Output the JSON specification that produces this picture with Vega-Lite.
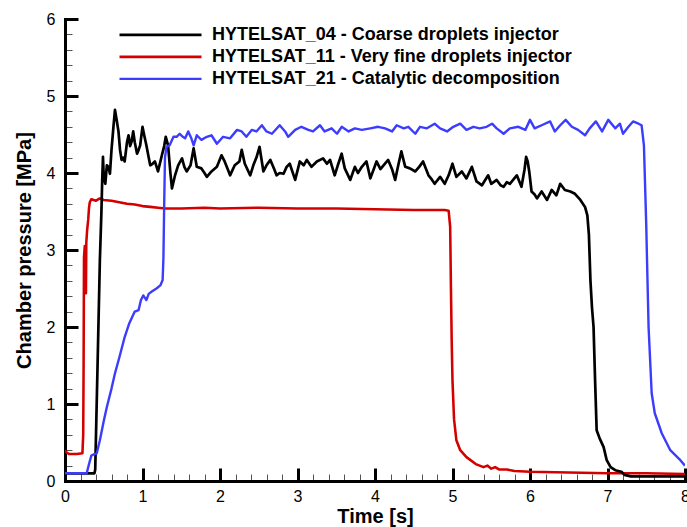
{
  "$schema": "https://vega.github.io/schema/vega-lite/v6.json",
  "autosize": {"type": "none"},
  "padding": {"left": 65, "top": 19, "right": 2, "bottom": 46},
  "width": 620,
  "height": 462,
  "config": {
    "view": {"stroke": null},
    "font": "Liberation Sans",
    "axis": {"grid": false}
  },
  "data": {
    "values": [
      {"series": "HYTELSAT_11 - Very fine droplets injector", "t": 0, "p": 0.40},
      {"series": "HYTELSAT_11 - Very fine droplets injector", "t": 0.01, "p": 0.38},
      {"series": "HYTELSAT_11 - Very fine droplets injector", "t": 0.05, "p": 0.35},
      {"series": "HYTELSAT_11 - Very fine droplets injector", "t": 0.15, "p": 0.35},
      {"series": "HYTELSAT_11 - Very fine droplets injector", "t": 0.225, "p": 0.36},
      {"series": "HYTELSAT_11 - Very fine droplets injector", "t": 0.235, "p": 0.6},
      {"series": "HYTELSAT_11 - Very fine droplets injector", "t": 0.24, "p": 1.5},
      {"series": "HYTELSAT_11 - Very fine droplets injector", "t": 0.245, "p": 2.9},
      {"series": "HYTELSAT_11 - Very fine droplets injector", "t": 0.255, "p": 3.05},
      {"series": "HYTELSAT_11 - Very fine droplets injector", "t": 0.265, "p": 2.6},
      {"series": "HYTELSAT_11 - Very fine droplets injector", "t": 0.27, "p": 2.44},
      {"series": "HYTELSAT_11 - Very fine droplets injector", "t": 0.275, "p": 3.1},
      {"series": "HYTELSAT_11 - Very fine droplets injector", "t": 0.285, "p": 3.25},
      {"series": "HYTELSAT_11 - Very fine droplets injector", "t": 0.3, "p": 3.4},
      {"series": "HYTELSAT_11 - Very fine droplets injector", "t": 0.31, "p": 3.55},
      {"series": "HYTELSAT_11 - Very fine droplets injector", "t": 0.32, "p": 3.62},
      {"series": "HYTELSAT_11 - Very fine droplets injector", "t": 0.34, "p": 3.66},
      {"series": "HYTELSAT_11 - Very fine droplets injector", "t": 0.4, "p": 3.64},
      {"series": "HYTELSAT_11 - Very fine droplets injector", "t": 0.45, "p": 3.67},
      {"series": "HYTELSAT_11 - Very fine droplets injector", "t": 0.5, "p": 3.65},
      {"series": "HYTELSAT_11 - Very fine droplets injector", "t": 0.6, "p": 3.64},
      {"series": "HYTELSAT_11 - Very fine droplets injector", "t": 0.7, "p": 3.62},
      {"series": "HYTELSAT_11 - Very fine droplets injector", "t": 0.8, "p": 3.6},
      {"series": "HYTELSAT_11 - Very fine droplets injector", "t": 0.9, "p": 3.59},
      {"series": "HYTELSAT_11 - Very fine droplets injector", "t": 1.0, "p": 3.57},
      {"series": "HYTELSAT_11 - Very fine droplets injector", "t": 1.1, "p": 3.56},
      {"series": "HYTELSAT_11 - Very fine droplets injector", "t": 1.2, "p": 3.55},
      {"series": "HYTELSAT_11 - Very fine droplets injector", "t": 1.3, "p": 3.54},
      {"series": "HYTELSAT_11 - Very fine droplets injector", "t": 1.5, "p": 3.54},
      {"series": "HYTELSAT_11 - Very fine droplets injector", "t": 1.8, "p": 3.55},
      {"series": "HYTELSAT_11 - Very fine droplets injector", "t": 2.0, "p": 3.54},
      {"series": "HYTELSAT_11 - Very fine droplets injector", "t": 2.5, "p": 3.55},
      {"series": "HYTELSAT_11 - Very fine droplets injector", "t": 3.0, "p": 3.54},
      {"series": "HYTELSAT_11 - Very fine droplets injector", "t": 3.5, "p": 3.54},
      {"series": "HYTELSAT_11 - Very fine droplets injector", "t": 4.0, "p": 3.53},
      {"series": "HYTELSAT_11 - Very fine droplets injector", "t": 4.5, "p": 3.52},
      {"series": "HYTELSAT_11 - Very fine droplets injector", "t": 4.9, "p": 3.52},
      {"series": "HYTELSAT_11 - Very fine droplets injector", "t": 4.95, "p": 3.51},
      {"series": "HYTELSAT_11 - Very fine droplets injector", "t": 4.97, "p": 3.3},
      {"series": "HYTELSAT_11 - Very fine droplets injector", "t": 4.98, "p": 2.5},
      {"series": "HYTELSAT_11 - Very fine droplets injector", "t": 4.99, "p": 1.8},
      {"series": "HYTELSAT_11 - Very fine droplets injector", "t": 5.0, "p": 1.3},
      {"series": "HYTELSAT_11 - Very fine droplets injector", "t": 5.02, "p": 0.8},
      {"series": "HYTELSAT_11 - Very fine droplets injector", "t": 5.05, "p": 0.53},
      {"series": "HYTELSAT_11 - Very fine droplets injector", "t": 5.1, "p": 0.4},
      {"series": "HYTELSAT_11 - Very fine droplets injector", "t": 5.18, "p": 0.31},
      {"series": "HYTELSAT_11 - Very fine droplets injector", "t": 5.3, "p": 0.22},
      {"series": "HYTELSAT_11 - Very fine droplets injector", "t": 5.4, "p": 0.18},
      {"series": "HYTELSAT_11 - Very fine droplets injector", "t": 5.45, "p": 0.2},
      {"series": "HYTELSAT_11 - Very fine droplets injector", "t": 5.5, "p": 0.16},
      {"series": "HYTELSAT_11 - Very fine droplets injector", "t": 5.55, "p": 0.18},
      {"series": "HYTELSAT_11 - Very fine droplets injector", "t": 5.6, "p": 0.15},
      {"series": "HYTELSAT_11 - Very fine droplets injector", "t": 5.7, "p": 0.15},
      {"series": "HYTELSAT_11 - Very fine droplets injector", "t": 5.8, "p": 0.13},
      {"series": "HYTELSAT_11 - Very fine droplets injector", "t": 6.0, "p": 0.12},
      {"series": "HYTELSAT_11 - Very fine droplets injector", "t": 6.5, "p": 0.11},
      {"series": "HYTELSAT_11 - Very fine droplets injector", "t": 7.0, "p": 0.1},
      {"series": "HYTELSAT_11 - Very fine droplets injector", "t": 7.5, "p": 0.1},
      {"series": "HYTELSAT_11 - Very fine droplets injector", "t": 8.0, "p": 0.09},

      {"series": "HYTELSAT_04 - Coarse droplets injector", "t": 0, "p": 0.1},
      {"series": "HYTELSAT_04 - Coarse droplets injector", "t": 0.38, "p": 0.1},
      {"series": "HYTELSAT_04 - Coarse droplets injector", "t": 0.39, "p": 0.15},
      {"series": "HYTELSAT_04 - Coarse droplets injector", "t": 0.42, "p": 1.5},
      {"series": "HYTELSAT_04 - Coarse droplets injector", "t": 0.45, "p": 2.87},
      {"series": "HYTELSAT_04 - Coarse droplets injector", "t": 0.47, "p": 3.5},
      {"series": "HYTELSAT_04 - Coarse droplets injector", "t": 0.48, "p": 3.9},
      {"series": "HYTELSAT_04 - Coarse droplets injector", "t": 0.49, "p": 4.21},
      {"series": "HYTELSAT_04 - Coarse droplets injector", "t": 0.5, "p": 3.95},
      {"series": "HYTELSAT_04 - Coarse droplets injector", "t": 0.52, "p": 3.86},
      {"series": "HYTELSAT_04 - Coarse droplets injector", "t": 0.54, "p": 4.1},
      {"series": "HYTELSAT_04 - Coarse droplets injector", "t": 0.56, "p": 4.08},
      {"series": "HYTELSAT_04 - Coarse droplets injector", "t": 0.58, "p": 3.99},
      {"series": "HYTELSAT_04 - Coarse droplets injector", "t": 0.6, "p": 4.3},
      {"series": "HYTELSAT_04 - Coarse droplets injector", "t": 0.625, "p": 4.6},
      {"series": "HYTELSAT_04 - Coarse droplets injector", "t": 0.645, "p": 4.82},
      {"series": "HYTELSAT_04 - Coarse droplets injector", "t": 0.665, "p": 4.7},
      {"series": "HYTELSAT_04 - Coarse droplets injector", "t": 0.69, "p": 4.54},
      {"series": "HYTELSAT_04 - Coarse droplets injector", "t": 0.71, "p": 4.3},
      {"series": "HYTELSAT_04 - Coarse droplets injector", "t": 0.73, "p": 4.17},
      {"series": "HYTELSAT_04 - Coarse droplets injector", "t": 0.75, "p": 4.2},
      {"series": "HYTELSAT_04 - Coarse droplets injector", "t": 0.77, "p": 4.15},
      {"series": "HYTELSAT_04 - Coarse droplets injector", "t": 0.8, "p": 4.4},
      {"series": "HYTELSAT_04 - Coarse droplets injector", "t": 0.82, "p": 4.49},
      {"series": "HYTELSAT_04 - Coarse droplets injector", "t": 0.84, "p": 4.35},
      {"series": "HYTELSAT_04 - Coarse droplets injector", "t": 0.86, "p": 4.41},
      {"series": "HYTELSAT_04 - Coarse droplets injector", "t": 0.88, "p": 4.54},
      {"series": "HYTELSAT_04 - Coarse droplets injector", "t": 0.9, "p": 4.4},
      {"series": "HYTELSAT_04 - Coarse droplets injector", "t": 0.93, "p": 4.25},
      {"series": "HYTELSAT_04 - Coarse droplets injector", "t": 0.95, "p": 4.3},
      {"series": "HYTELSAT_04 - Coarse droplets injector", "t": 0.97, "p": 4.36},
      {"series": "HYTELSAT_04 - Coarse droplets injector", "t": 1.0, "p": 4.6},
      {"series": "HYTELSAT_04 - Coarse droplets injector", "t": 1.02, "p": 4.5},
      {"series": "HYTELSAT_04 - Coarse droplets injector", "t": 1.05, "p": 4.36},
      {"series": "HYTELSAT_04 - Coarse droplets injector", "t": 1.08, "p": 4.2},
      {"series": "HYTELSAT_04 - Coarse droplets injector", "t": 1.1, "p": 4.1},
      {"series": "HYTELSAT_04 - Coarse droplets injector", "t": 1.13, "p": 4.12},
      {"series": "HYTELSAT_04 - Coarse droplets injector", "t": 1.16, "p": 4.15},
      {"series": "HYTELSAT_04 - Coarse droplets injector", "t": 1.2, "p": 4.02},
      {"series": "HYTELSAT_04 - Coarse droplets injector", "t": 1.25, "p": 4.23},
      {"series": "HYTELSAT_04 - Coarse droplets injector", "t": 1.28, "p": 4.35},
      {"series": "HYTELSAT_04 - Coarse droplets injector", "t": 1.3, "p": 4.47},
      {"series": "HYTELSAT_04 - Coarse droplets injector", "t": 1.33, "p": 4.36},
      {"series": "HYTELSAT_04 - Coarse droplets injector", "t": 1.36, "p": 4.0},
      {"series": "HYTELSAT_04 - Coarse droplets injector", "t": 1.38, "p": 3.8},
      {"series": "HYTELSAT_04 - Coarse droplets injector", "t": 1.42, "p": 3.97},
      {"series": "HYTELSAT_04 - Coarse droplets injector", "t": 1.46, "p": 4.1},
      {"series": "HYTELSAT_04 - Coarse droplets injector", "t": 1.51, "p": 4.19},
      {"series": "HYTELSAT_04 - Coarse droplets injector", "t": 1.54, "p": 4.08},
      {"series": "HYTELSAT_04 - Coarse droplets injector", "t": 1.57, "p": 4.02},
      {"series": "HYTELSAT_04 - Coarse droplets injector", "t": 1.62, "p": 4.1},
      {"series": "HYTELSAT_04 - Coarse droplets injector", "t": 1.66, "p": 4.32},
      {"series": "HYTELSAT_04 - Coarse droplets injector", "t": 1.7, "p": 4.08},
      {"series": "HYTELSAT_04 - Coarse droplets injector", "t": 1.76, "p": 4.06},
      {"series": "HYTELSAT_04 - Coarse droplets injector", "t": 1.8, "p": 4.0},
      {"series": "HYTELSAT_04 - Coarse droplets injector", "t": 1.83, "p": 3.95},
      {"series": "HYTELSAT_04 - Coarse droplets injector", "t": 1.89, "p": 4.02},
      {"series": "HYTELSAT_04 - Coarse droplets injector", "t": 1.96, "p": 4.08},
      {"series": "HYTELSAT_04 - Coarse droplets injector", "t": 2.02, "p": 4.23},
      {"series": "HYTELSAT_04 - Coarse droplets injector", "t": 2.06, "p": 4.15},
      {"series": "HYTELSAT_04 - Coarse droplets injector", "t": 2.1, "p": 4.05},
      {"series": "HYTELSAT_04 - Coarse droplets injector", "t": 2.13, "p": 3.97},
      {"series": "HYTELSAT_04 - Coarse droplets injector", "t": 2.19, "p": 4.1},
      {"series": "HYTELSAT_04 - Coarse droplets injector", "t": 2.25, "p": 4.15},
      {"series": "HYTELSAT_04 - Coarse droplets injector", "t": 2.28, "p": 4.3},
      {"series": "HYTELSAT_04 - Coarse droplets injector", "t": 2.32, "p": 4.12},
      {"series": "HYTELSAT_04 - Coarse droplets injector", "t": 2.39, "p": 3.97},
      {"series": "HYTELSAT_04 - Coarse droplets injector", "t": 2.43, "p": 4.1},
      {"series": "HYTELSAT_04 - Coarse droplets injector", "t": 2.47, "p": 4.2},
      {"series": "HYTELSAT_04 - Coarse droplets injector", "t": 2.51, "p": 4.34},
      {"series": "HYTELSAT_04 - Coarse droplets injector", "t": 2.56, "p": 4.02},
      {"series": "HYTELSAT_04 - Coarse droplets injector", "t": 2.6, "p": 4.1},
      {"series": "HYTELSAT_04 - Coarse droplets injector", "t": 2.65, "p": 4.17},
      {"series": "HYTELSAT_04 - Coarse droplets injector", "t": 2.7, "p": 4.05},
      {"series": "HYTELSAT_04 - Coarse droplets injector", "t": 2.73, "p": 3.97},
      {"series": "HYTELSAT_04 - Coarse droplets injector", "t": 2.77, "p": 4.0},
      {"series": "HYTELSAT_04 - Coarse droplets injector", "t": 2.82, "p": 3.99},
      {"series": "HYTELSAT_04 - Coarse droplets injector", "t": 2.86, "p": 4.08},
      {"series": "HYTELSAT_04 - Coarse droplets injector", "t": 2.9, "p": 4.12},
      {"series": "HYTELSAT_04 - Coarse droplets injector", "t": 2.97, "p": 3.91},
      {"series": "HYTELSAT_04 - Coarse droplets injector", "t": 3.03, "p": 4.15},
      {"series": "HYTELSAT_04 - Coarse droplets injector", "t": 3.08, "p": 4.1},
      {"series": "HYTELSAT_04 - Coarse droplets injector", "t": 3.12, "p": 4.17},
      {"series": "HYTELSAT_04 - Coarse droplets injector", "t": 3.18, "p": 4.08},
      {"series": "HYTELSAT_04 - Coarse droplets injector", "t": 3.25, "p": 4.15},
      {"series": "HYTELSAT_04 - Coarse droplets injector", "t": 3.33, "p": 4.19},
      {"series": "HYTELSAT_04 - Coarse droplets injector", "t": 3.38, "p": 4.12},
      {"series": "HYTELSAT_04 - Coarse droplets injector", "t": 3.42, "p": 4.17},
      {"series": "HYTELSAT_04 - Coarse droplets injector", "t": 3.48, "p": 3.97},
      {"series": "HYTELSAT_04 - Coarse droplets injector", "t": 3.52, "p": 4.1},
      {"series": "HYTELSAT_04 - Coarse droplets injector", "t": 3.57, "p": 4.25},
      {"series": "HYTELSAT_04 - Coarse droplets injector", "t": 3.61, "p": 4.06},
      {"series": "HYTELSAT_04 - Coarse droplets injector", "t": 3.68, "p": 3.91},
      {"series": "HYTELSAT_04 - Coarse droplets injector", "t": 3.74, "p": 4.08},
      {"series": "HYTELSAT_04 - Coarse droplets injector", "t": 3.78, "p": 4.0},
      {"series": "HYTELSAT_04 - Coarse droplets injector", "t": 3.83, "p": 4.08},
      {"series": "HYTELSAT_04 - Coarse droplets injector", "t": 3.89, "p": 4.15},
      {"series": "HYTELSAT_04 - Coarse droplets injector", "t": 3.94, "p": 3.93},
      {"series": "HYTELSAT_04 - Coarse droplets injector", "t": 4.02, "p": 4.15},
      {"series": "HYTELSAT_04 - Coarse droplets injector", "t": 4.07, "p": 4.05},
      {"series": "HYTELSAT_04 - Coarse droplets injector", "t": 4.11, "p": 4.1},
      {"series": "HYTELSAT_04 - Coarse droplets injector", "t": 4.17, "p": 4.17},
      {"series": "HYTELSAT_04 - Coarse droplets injector", "t": 4.22, "p": 4.05},
      {"series": "HYTELSAT_04 - Coarse droplets injector", "t": 4.26, "p": 3.91},
      {"series": "HYTELSAT_04 - Coarse droplets injector", "t": 4.3, "p": 4.1},
      {"series": "HYTELSAT_04 - Coarse droplets injector", "t": 4.34, "p": 4.28},
      {"series": "HYTELSAT_04 - Coarse droplets injector", "t": 4.39, "p": 4.08},
      {"series": "HYTELSAT_04 - Coarse droplets injector", "t": 4.45, "p": 4.06},
      {"series": "HYTELSAT_04 - Coarse droplets injector", "t": 4.52, "p": 4.02},
      {"series": "HYTELSAT_04 - Coarse droplets injector", "t": 4.57, "p": 4.08},
      {"series": "HYTELSAT_04 - Coarse droplets injector", "t": 4.62, "p": 4.15},
      {"series": "HYTELSAT_04 - Coarse droplets injector", "t": 4.69, "p": 3.97},
      {"series": "HYTELSAT_04 - Coarse droplets injector", "t": 4.73, "p": 3.92},
      {"series": "HYTELSAT_04 - Coarse droplets injector", "t": 4.77, "p": 3.86},
      {"series": "HYTELSAT_04 - Coarse droplets injector", "t": 4.84, "p": 3.95},
      {"series": "HYTELSAT_04 - Coarse droplets injector", "t": 4.9, "p": 3.86},
      {"series": "HYTELSAT_04 - Coarse droplets injector", "t": 4.95, "p": 3.97},
      {"series": "HYTELSAT_04 - Coarse droplets injector", "t": 5.0, "p": 4.12},
      {"series": "HYTELSAT_04 - Coarse droplets injector", "t": 5.05, "p": 3.95},
      {"series": "HYTELSAT_04 - Coarse droplets injector", "t": 5.12, "p": 4.02},
      {"series": "HYTELSAT_04 - Coarse droplets injector", "t": 5.18, "p": 3.93},
      {"series": "HYTELSAT_04 - Coarse droplets injector", "t": 5.25, "p": 4.08},
      {"series": "HYTELSAT_04 - Coarse droplets injector", "t": 5.31, "p": 3.89},
      {"series": "HYTELSAT_04 - Coarse droplets injector", "t": 5.38, "p": 3.84},
      {"series": "HYTELSAT_04 - Coarse droplets injector", "t": 5.46, "p": 3.97},
      {"series": "HYTELSAT_04 - Coarse droplets injector", "t": 5.5, "p": 3.86},
      {"series": "HYTELSAT_04 - Coarse droplets injector", "t": 5.57, "p": 3.91},
      {"series": "HYTELSAT_04 - Coarse droplets injector", "t": 5.62, "p": 3.84},
      {"series": "HYTELSAT_04 - Coarse droplets injector", "t": 5.66, "p": 3.82},
      {"series": "HYTELSAT_04 - Coarse droplets injector", "t": 5.7, "p": 3.88},
      {"series": "HYTELSAT_04 - Coarse droplets injector", "t": 5.74, "p": 3.86},
      {"series": "HYTELSAT_04 - Coarse droplets injector", "t": 5.79, "p": 3.92},
      {"series": "HYTELSAT_04 - Coarse droplets injector", "t": 5.83, "p": 3.97},
      {"series": "HYTELSAT_04 - Coarse droplets injector", "t": 5.89, "p": 3.82},
      {"series": "HYTELSAT_04 - Coarse droplets injector", "t": 5.93, "p": 4.05},
      {"series": "HYTELSAT_04 - Coarse droplets injector", "t": 5.95, "p": 4.21},
      {"series": "HYTELSAT_04 - Coarse droplets injector", "t": 5.97, "p": 4.15},
      {"series": "HYTELSAT_04 - Coarse droplets injector", "t": 5.99, "p": 4.02},
      {"series": "HYTELSAT_04 - Coarse droplets injector", "t": 6.02, "p": 3.76},
      {"series": "HYTELSAT_04 - Coarse droplets injector", "t": 6.06, "p": 3.72},
      {"series": "HYTELSAT_04 - Coarse droplets injector", "t": 6.09, "p": 3.67},
      {"series": "HYTELSAT_04 - Coarse droplets injector", "t": 6.15, "p": 3.76},
      {"series": "HYTELSAT_04 - Coarse droplets injector", "t": 6.22, "p": 3.65},
      {"series": "HYTELSAT_04 - Coarse droplets injector", "t": 6.28, "p": 3.78},
      {"series": "HYTELSAT_04 - Coarse droplets injector", "t": 6.34, "p": 3.71},
      {"series": "HYTELSAT_04 - Coarse droplets injector", "t": 6.39, "p": 3.86},
      {"series": "HYTELSAT_04 - Coarse droplets injector", "t": 6.45, "p": 3.78},
      {"series": "HYTELSAT_04 - Coarse droplets injector", "t": 6.52, "p": 3.76},
      {"series": "HYTELSAT_04 - Coarse droplets injector", "t": 6.58, "p": 3.73},
      {"series": "HYTELSAT_04 - Coarse droplets injector", "t": 6.65, "p": 3.65},
      {"series": "HYTELSAT_04 - Coarse droplets injector", "t": 6.71, "p": 3.56},
      {"series": "HYTELSAT_04 - Coarse droplets injector", "t": 6.74, "p": 3.45},
      {"series": "HYTELSAT_04 - Coarse droplets injector", "t": 6.76, "p": 3.2},
      {"series": "HYTELSAT_04 - Coarse droplets injector", "t": 6.78, "p": 2.6},
      {"series": "HYTELSAT_04 - Coarse droplets injector", "t": 6.8, "p": 2.25},
      {"series": "HYTELSAT_04 - Coarse droplets injector", "t": 6.82, "p": 2.0},
      {"series": "HYTELSAT_04 - Coarse droplets injector", "t": 6.84, "p": 1.3},
      {"series": "HYTELSAT_04 - Coarse droplets injector", "t": 6.86, "p": 0.66},
      {"series": "HYTELSAT_04 - Coarse droplets injector", "t": 6.9, "p": 0.55},
      {"series": "HYTELSAT_04 - Coarse droplets injector", "t": 6.95, "p": 0.44},
      {"series": "HYTELSAT_04 - Coarse droplets injector", "t": 6.99, "p": 0.27},
      {"series": "HYTELSAT_04 - Coarse droplets injector", "t": 7.04, "p": 0.18},
      {"series": "HYTELSAT_04 - Coarse droplets injector", "t": 7.1, "p": 0.14},
      {"series": "HYTELSAT_04 - Coarse droplets injector", "t": 7.18, "p": 0.12},
      {"series": "HYTELSAT_04 - Coarse droplets injector", "t": 7.22, "p": 0.08},
      {"series": "HYTELSAT_04 - Coarse droplets injector", "t": 7.3, "p": 0.06},
      {"series": "HYTELSAT_04 - Coarse droplets injector", "t": 8.0, "p": 0.06},

      {"series": "HYTELSAT_21 - Catalytic decomposition", "t": 0, "p": 0.1},
      {"series": "HYTELSAT_21 - Catalytic decomposition", "t": 0.28, "p": 0.1},
      {"series": "HYTELSAT_21 - Catalytic decomposition", "t": 0.31, "p": 0.22},
      {"series": "HYTELSAT_21 - Catalytic decomposition", "t": 0.34, "p": 0.33},
      {"series": "HYTELSAT_21 - Catalytic decomposition", "t": 0.38, "p": 0.35},
      {"series": "HYTELSAT_21 - Catalytic decomposition", "t": 0.41, "p": 0.36},
      {"series": "HYTELSAT_21 - Catalytic decomposition", "t": 0.45, "p": 0.53},
      {"series": "HYTELSAT_21 - Catalytic decomposition", "t": 0.5, "p": 0.78},
      {"series": "HYTELSAT_21 - Catalytic decomposition", "t": 0.54, "p": 0.96},
      {"series": "HYTELSAT_21 - Catalytic decomposition", "t": 0.6, "p": 1.2},
      {"series": "HYTELSAT_21 - Catalytic decomposition", "t": 0.645, "p": 1.4},
      {"series": "HYTELSAT_21 - Catalytic decomposition", "t": 0.7, "p": 1.6},
      {"series": "HYTELSAT_21 - Catalytic decomposition", "t": 0.77, "p": 1.87},
      {"series": "HYTELSAT_21 - Catalytic decomposition", "t": 0.83, "p": 2.05},
      {"series": "HYTELSAT_21 - Catalytic decomposition", "t": 0.9, "p": 2.2},
      {"series": "HYTELSAT_21 - Catalytic decomposition", "t": 0.95, "p": 2.22},
      {"series": "HYTELSAT_21 - Catalytic decomposition", "t": 0.98, "p": 2.35},
      {"series": "HYTELSAT_21 - Catalytic decomposition", "t": 1.01, "p": 2.41},
      {"series": "HYTELSAT_21 - Catalytic decomposition", "t": 1.05, "p": 2.35},
      {"series": "HYTELSAT_21 - Catalytic decomposition", "t": 1.08, "p": 2.43},
      {"series": "HYTELSAT_21 - Catalytic decomposition", "t": 1.12, "p": 2.46},
      {"series": "HYTELSAT_21 - Catalytic decomposition", "t": 1.18, "p": 2.5},
      {"series": "HYTELSAT_21 - Catalytic decomposition", "t": 1.23, "p": 2.54},
      {"series": "HYTELSAT_21 - Catalytic decomposition", "t": 1.26, "p": 2.61},
      {"series": "HYTELSAT_21 - Catalytic decomposition", "t": 1.27, "p": 2.9},
      {"series": "HYTELSAT_21 - Catalytic decomposition", "t": 1.28, "p": 3.6},
      {"series": "HYTELSAT_21 - Catalytic decomposition", "t": 1.29, "p": 4.2},
      {"series": "HYTELSAT_21 - Catalytic decomposition", "t": 1.31, "p": 4.34},
      {"series": "HYTELSAT_21 - Catalytic decomposition", "t": 1.35, "p": 4.36},
      {"series": "HYTELSAT_21 - Catalytic decomposition", "t": 1.4, "p": 4.47},
      {"series": "HYTELSAT_21 - Catalytic decomposition", "t": 1.44, "p": 4.47},
      {"series": "HYTELSAT_21 - Catalytic decomposition", "t": 1.48, "p": 4.51},
      {"series": "HYTELSAT_21 - Catalytic decomposition", "t": 1.52, "p": 4.47},
      {"series": "HYTELSAT_21 - Catalytic decomposition", "t": 1.55, "p": 4.45},
      {"series": "HYTELSAT_21 - Catalytic decomposition", "t": 1.59, "p": 4.54},
      {"series": "HYTELSAT_21 - Catalytic decomposition", "t": 1.63, "p": 4.45},
      {"series": "HYTELSAT_21 - Catalytic decomposition", "t": 1.66, "p": 4.36},
      {"series": "HYTELSAT_21 - Catalytic decomposition", "t": 1.7, "p": 4.49},
      {"series": "HYTELSAT_21 - Catalytic decomposition", "t": 1.76, "p": 4.43},
      {"series": "HYTELSAT_21 - Catalytic decomposition", "t": 1.83, "p": 4.47},
      {"series": "HYTELSAT_21 - Catalytic decomposition", "t": 1.89, "p": 4.49},
      {"series": "HYTELSAT_21 - Catalytic decomposition", "t": 1.96, "p": 4.38},
      {"series": "HYTELSAT_21 - Catalytic decomposition", "t": 2.04, "p": 4.47},
      {"series": "HYTELSAT_21 - Catalytic decomposition", "t": 2.13, "p": 4.45},
      {"series": "HYTELSAT_21 - Catalytic decomposition", "t": 2.22, "p": 4.56},
      {"series": "HYTELSAT_21 - Catalytic decomposition", "t": 2.28, "p": 4.54},
      {"series": "HYTELSAT_21 - Catalytic decomposition", "t": 2.34, "p": 4.47},
      {"series": "HYTELSAT_21 - Catalytic decomposition", "t": 2.41, "p": 4.56},
      {"series": "HYTELSAT_21 - Catalytic decomposition", "t": 2.47, "p": 4.54},
      {"series": "HYTELSAT_21 - Catalytic decomposition", "t": 2.54, "p": 4.62},
      {"series": "HYTELSAT_21 - Catalytic decomposition", "t": 2.6, "p": 4.54},
      {"series": "HYTELSAT_21 - Catalytic decomposition", "t": 2.67, "p": 4.51},
      {"series": "HYTELSAT_21 - Catalytic decomposition", "t": 2.77, "p": 4.62},
      {"series": "HYTELSAT_21 - Catalytic decomposition", "t": 2.84, "p": 4.54},
      {"series": "HYTELSAT_21 - Catalytic decomposition", "t": 2.88, "p": 4.47},
      {"series": "HYTELSAT_21 - Catalytic decomposition", "t": 2.97, "p": 4.56},
      {"series": "HYTELSAT_21 - Catalytic decomposition", "t": 3.05, "p": 4.6},
      {"series": "HYTELSAT_21 - Catalytic decomposition", "t": 3.14, "p": 4.56},
      {"series": "HYTELSAT_21 - Catalytic decomposition", "t": 3.2, "p": 4.54},
      {"series": "HYTELSAT_21 - Catalytic decomposition", "t": 3.29, "p": 4.62},
      {"series": "HYTELSAT_21 - Catalytic decomposition", "t": 3.35, "p": 4.54},
      {"series": "HYTELSAT_21 - Catalytic decomposition", "t": 3.44, "p": 4.58},
      {"series": "HYTELSAT_21 - Catalytic decomposition", "t": 3.51, "p": 4.51},
      {"series": "HYTELSAT_21 - Catalytic decomposition", "t": 3.57, "p": 4.6},
      {"series": "HYTELSAT_21 - Catalytic decomposition", "t": 3.66, "p": 4.54},
      {"series": "HYTELSAT_21 - Catalytic decomposition", "t": 3.74, "p": 4.58},
      {"series": "HYTELSAT_21 - Catalytic decomposition", "t": 3.83, "p": 4.56},
      {"series": "HYTELSAT_21 - Catalytic decomposition", "t": 3.94, "p": 4.58},
      {"series": "HYTELSAT_21 - Catalytic decomposition", "t": 4.04, "p": 4.6},
      {"series": "HYTELSAT_21 - Catalytic decomposition", "t": 4.13, "p": 4.58},
      {"series": "HYTELSAT_21 - Catalytic decomposition", "t": 4.22, "p": 4.54},
      {"series": "HYTELSAT_21 - Catalytic decomposition", "t": 4.28, "p": 4.62},
      {"series": "HYTELSAT_21 - Catalytic decomposition", "t": 4.37, "p": 4.58},
      {"series": "HYTELSAT_21 - Catalytic decomposition", "t": 4.43, "p": 4.6},
      {"series": "HYTELSAT_21 - Catalytic decomposition", "t": 4.52, "p": 4.51},
      {"series": "HYTELSAT_21 - Catalytic decomposition", "t": 4.58, "p": 4.6},
      {"series": "HYTELSAT_21 - Catalytic decomposition", "t": 4.67, "p": 4.58},
      {"series": "HYTELSAT_21 - Catalytic decomposition", "t": 4.77, "p": 4.64},
      {"series": "HYTELSAT_21 - Catalytic decomposition", "t": 4.84, "p": 4.58},
      {"series": "HYTELSAT_21 - Catalytic decomposition", "t": 4.93, "p": 4.54},
      {"series": "HYTELSAT_21 - Catalytic decomposition", "t": 5.01, "p": 4.6},
      {"series": "HYTELSAT_21 - Catalytic decomposition", "t": 5.1, "p": 4.64},
      {"series": "HYTELSAT_21 - Catalytic decomposition", "t": 5.18, "p": 4.56},
      {"series": "HYTELSAT_21 - Catalytic decomposition", "t": 5.27, "p": 4.6},
      {"series": "HYTELSAT_21 - Catalytic decomposition", "t": 5.35, "p": 4.58},
      {"series": "HYTELSAT_21 - Catalytic decomposition", "t": 5.44, "p": 4.6},
      {"series": "HYTELSAT_21 - Catalytic decomposition", "t": 5.51, "p": 4.64},
      {"series": "HYTELSAT_21 - Catalytic decomposition", "t": 5.57, "p": 4.58},
      {"series": "HYTELSAT_21 - Catalytic decomposition", "t": 5.66, "p": 4.51},
      {"series": "HYTELSAT_21 - Catalytic decomposition", "t": 5.74, "p": 4.58},
      {"series": "HYTELSAT_21 - Catalytic decomposition", "t": 5.85, "p": 4.6},
      {"series": "HYTELSAT_21 - Catalytic decomposition", "t": 5.94, "p": 4.56},
      {"series": "HYTELSAT_21 - Catalytic decomposition", "t": 6.0, "p": 4.69},
      {"series": "HYTELSAT_21 - Catalytic decomposition", "t": 6.06, "p": 4.58},
      {"series": "HYTELSAT_21 - Catalytic decomposition", "t": 6.15, "p": 4.62},
      {"series": "HYTELSAT_21 - Catalytic decomposition", "t": 6.26, "p": 4.67},
      {"series": "HYTELSAT_21 - Catalytic decomposition", "t": 6.32, "p": 4.54},
      {"series": "HYTELSAT_21 - Catalytic decomposition", "t": 6.39, "p": 4.62},
      {"series": "HYTELSAT_21 - Catalytic decomposition", "t": 6.46, "p": 4.69},
      {"series": "HYTELSAT_21 - Catalytic decomposition", "t": 6.54, "p": 4.6},
      {"series": "HYTELSAT_21 - Catalytic decomposition", "t": 6.62, "p": 4.56},
      {"series": "HYTELSAT_21 - Catalytic decomposition", "t": 6.71, "p": 4.49},
      {"series": "HYTELSAT_21 - Catalytic decomposition", "t": 6.77, "p": 4.58},
      {"series": "HYTELSAT_21 - Catalytic decomposition", "t": 6.85, "p": 4.67},
      {"series": "HYTELSAT_21 - Catalytic decomposition", "t": 6.93, "p": 4.54},
      {"series": "HYTELSAT_21 - Catalytic decomposition", "t": 7.01, "p": 4.69},
      {"series": "HYTELSAT_21 - Catalytic decomposition", "t": 7.1, "p": 4.58},
      {"series": "HYTELSAT_21 - Catalytic decomposition", "t": 7.16, "p": 4.64},
      {"series": "HYTELSAT_21 - Catalytic decomposition", "t": 7.2, "p": 4.51},
      {"series": "HYTELSAT_21 - Catalytic decomposition", "t": 7.27, "p": 4.6},
      {"series": "HYTELSAT_21 - Catalytic decomposition", "t": 7.33, "p": 4.67},
      {"series": "HYTELSAT_21 - Catalytic decomposition", "t": 7.4, "p": 4.64},
      {"series": "HYTELSAT_21 - Catalytic decomposition", "t": 7.44, "p": 4.62},
      {"series": "HYTELSAT_21 - Catalytic decomposition", "t": 7.47, "p": 4.36},
      {"series": "HYTELSAT_21 - Catalytic decomposition", "t": 7.5, "p": 3.32},
      {"series": "HYTELSAT_21 - Catalytic decomposition", "t": 7.51, "p": 2.87},
      {"series": "HYTELSAT_21 - Catalytic decomposition", "t": 7.53, "p": 2.0},
      {"series": "HYTELSAT_21 - Catalytic decomposition", "t": 7.57, "p": 1.14},
      {"series": "HYTELSAT_21 - Catalytic decomposition", "t": 7.61, "p": 0.88},
      {"series": "HYTELSAT_21 - Catalytic decomposition", "t": 7.7, "p": 0.62},
      {"series": "HYTELSAT_21 - Catalytic decomposition", "t": 7.81, "p": 0.4},
      {"series": "HYTELSAT_21 - Catalytic decomposition", "t": 7.94, "p": 0.27},
      {"series": "HYTELSAT_21 - Catalytic decomposition", "t": 8.0, "p": 0.2}
    ]
  },
  "mark": {"type": "line", "strokeJoin": "round", "clip": true},
  "encoding": {
    "x": {
      "field": "t",
      "type": "quantitative",
      "scale": {"domain": [0, 8], "nice": false, "zero": false},
      "axis": {
        "title": "Time [s]",
        "values": [0,0.2,0.4,0.6,0.8,1,1.2,1.4,1.6,1.8,2,2.2,2.4,2.6,2.8,3,3.2,3.4,3.6,3.8,4,4.2,4.4,4.6,4.8,5,5.2,5.4,5.6,5.8,6,6.2,6.4,6.6,6.8,7,7.2,7.4,7.6,7.8,8],
        "labelExpr": "abs(datum.value - round(datum.value)) < 0.001 ? format(datum.value, 'd') : ''",
        "tickSize": {"condition": {"test": "abs(datum.value - round(datum.value)) < 0.001", "value": -13}, "value": -7},
        "tickWidth": {"condition": {"test": "abs(datum.value - round(datum.value)) < 0.001", "value": 3}, "value": 1},
        "tickColor": {"condition": {"test": "abs(datum.value - round(datum.value)) < 0.001", "value": "#000000"}, "value": "#555555"},
        "domainColor": "#000000",
        "domainWidth": 3,
        "domainCap": "square",
        "labelPadding": 20,
        "labelFont": "Liberation Sans",
        "labelFontSize": 16,
        "labelColor": "#000000",
        "labelFlush": false,
        "labelOverlap": false,
        "titleFont": "Liberation Sans",
        "titleFontSize": 20,
        "titleFontWeight": "bold",
        "titleColor": "#000000",
        "titleBaseline": "alphabetic",
        "titleY": 41
      }
    },
    "y": {
      "field": "p",
      "type": "quantitative",
      "scale": {"domain": [0, 6], "nice": false},
      "axis": {
        "title": "Chamber pressure [MPa]",
        "values": [0,0.2,0.4,0.6,0.8,1,1.2,1.4,1.6,1.8,2,2.2,2.4,2.6,2.8,3,3.2,3.4,3.6,3.8,4,4.2,4.4,4.6,4.8,5,5.2,5.4,5.6,5.8,6],
        "labelExpr": "abs(datum.value - round(datum.value)) < 0.001 ? format(datum.value, 'd') : ''",
        "tickSize": {"condition": {"test": "abs(datum.value - round(datum.value)) < 0.001", "value": -13}, "value": -7},
        "tickWidth": {"condition": {"test": "abs(datum.value - round(datum.value)) < 0.001", "value": 3}, "value": 1},
        "tickColor": {"condition": {"test": "abs(datum.value - round(datum.value)) < 0.001", "value": "#000000"}, "value": "#555555"},
        "domainColor": "#000000",
        "domainWidth": 3,
        "domainCap": "square",
        "labelPadding": 23,
        "labelFont": "Liberation Sans",
        "labelFontSize": 16,
        "labelColor": "#000000",
        "labelFlush": false,
        "labelOverlap": false,
        "titleFont": "Liberation Sans",
        "titleFontSize": 20,
        "titleFontWeight": "bold",
        "titleColor": "#000000",
        "titleBaseline": "middle",
        "titleX": -41
      }
    },
    "color": {
      "field": "series",
      "type": "nominal",
      "scale": {
        "domain": ["HYTELSAT_04 - Coarse droplets injector", "HYTELSAT_11 - Very fine droplets injector", "HYTELSAT_21 - Catalytic decomposition"],
        "range": ["#000000", "#d40000", "#3c3cff"]
      },
      "legend": {
        "title": null,
        "orient": "none",
        "legendX": 53,
        "legendY": 5,
        "direction": "vertical",
        "symbolType": "stroke",
        "symbolSize": 6724,
        "symbolStrokeWidth": 2.5,
        "clipHeight": 21.7,
        "rowPadding": 0,
        "labelOffset": 9,
        "labelFont": "Liberation Sans",
        "labelFontSize": 18,
        "labelFontWeight": "bold",
        "labelColor": "#000000",
        "labelLimit": 0,
        "padding": 0
      }
    },
    "strokeWidth": {
      "field": "series",
      "type": "nominal",
      "scale": {
        "domain": ["HYTELSAT_04 - Coarse droplets injector", "HYTELSAT_11 - Very fine droplets injector", "HYTELSAT_21 - Catalytic decomposition"],
        "range": [2.7, 2.4, 1.6]
      },
      "legend": null
    }
  }
}
